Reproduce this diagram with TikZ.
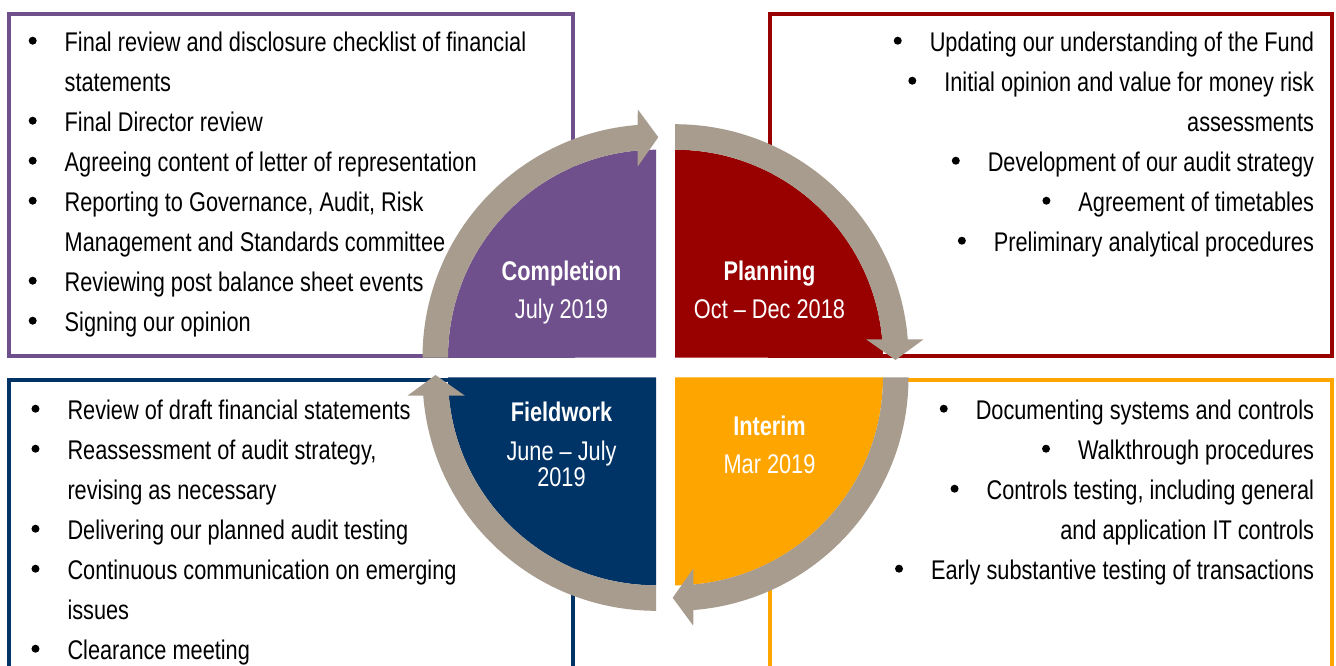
\documentclass[tikz,border=0pt]{standalone}
\usepackage{fontspec}
\setmainfont{Liberation Sans}[FakeStretch=0.805]
\definecolor{purp}{RGB}{111,80,140}
\definecolor{darkred}{RGB}{153,0,0}
\definecolor{navy}{RGB}{0,51,102}
\definecolor{orng}{RGB}{255,165,0}
\definecolor{ringgray}{RGB}{168,156,143}
\newcommand\itembul{\makebox[64pt][c]{\tikz[baseline=0pt]\fill[black] (0pt,11pt) circle (4pt);}}
\newcommand\cyclearrow[2]{%
  \fill[ringgray, shift={#1}]
    (180+#2:233.5pt) arc[start angle=180+#2, end angle=94.5+#2, radius=233.5pt]
    -- (94.2+#2:249pt) -- (89.4+#2:220.5pt) -- (95.5+#2:192pt)
    -- (95.05+#2:208pt) arc[start angle=95.05+#2, end angle=180+#2, radius=208pt]
    -- cycle;}
\begin{document}
\begin{tikzpicture}[x=1pt,y=1pt,
  txt/.style={inner sep=0pt, outer sep=0pt, font=\fontsize{27}{40}\selectfont, text=black},
  lft/.style={txt, anchor=base west},
  rgt/.style={txt, anchor=base east},
  lbl/.style={inner sep=0pt, outer sep=0pt, font=\fontsize{27}{40}\selectfont, text=white, anchor=base},
  boxline/.style={line width=4pt}]
\useasboundingbox (0,0) rectangle (1336,-665);
\clip (0,0) rectangle (1336,-665);
\fill[white] (0,0) rectangle (1336,-665);
% boxes
\draw[boxline, purp] (8.5,-13.5) rectangle (573,-355.5);
\draw[boxline, darkred] (769.5,-13.5) rectangle (1332,-355.5);
\draw[boxline, navy] (8.5,-379.5) rectangle (573,-700);
\draw[boxline, orng] (769.5,-379.5) rectangle (1332,-700);
% quadrants
\fill[purp] (656,-357.7) -- ++(180:208pt) arc[start angle=180, end angle=90, radius=208pt] -- cycle;
\fill[darkred] (675,-357.7) -- ++(90:208pt) arc[start angle=90, end angle=0, radius=208pt] -- cycle;
\fill[orng] (675,-377.3) -- ++(0:208pt) arc[start angle=0, end angle=-90, radius=208pt] -- cycle;
\fill[navy] (656,-377.3) -- ++(-90:208pt) arc[start angle=-90, end angle=-180, radius=208pt] -- cycle;
% cycle arrows
\cyclearrow{(656,-357.7)}{0}
\cyclearrow{(675,-357.7)}{-90}
\cyclearrow{(675,-377.3)}{-180}
\cyclearrow{(656,-377.3)}{-270}
% centre labels
\node[lbl, font=\fontsize{27}{40}\selectfont\bfseries] (compT) at (561.5,-280) {Completion};
\node[lbl] (compD) at (561.5,-318) {July 2019};
\node[lbl, font=\fontsize{27}{40}\selectfont\bfseries] (planT) at (769.5,-280) {Planning};
\node[lbl] (planD) at (769.5,-318) {Oct – Dec 2018};
\node[lbl, font=\fontsize{27}{40}\selectfont\bfseries] (fieldT) at (561.5,-421) {Fieldwork};
\node[lbl] (fieldD1) at (561.5,-460) {June – July};
\node[lbl] (fieldD2) at (561.5,-486) {2019};
\node[lbl, font=\fontsize{27}{40}\selectfont\bfseries] (intT) at (769.5,-435) {Interim};
\node[lbl] (intD) at (769.5,-473) {Mar 2019};
% completion box
\node[lft] (c1) at (0.7,-51.7) {\itembul Final review and disclosure checklist of financial};
\node[lft] (c1b) at (64.7,-91.7) {statements};
\node[lft] (c2) at (0.7,-131.7) {\itembul Final Director review};
\node[lft] (c3) at (0.7,-171.7) {\itembul Agreeing content of letter of representation};
\node[lft] (c4) at (0.7,-211.7) {\itembul Reporting to Governance, Audit, Risk};
\node[lft] (c4b) at (64.7,-251.7) {Management and Standards committee};
\node[lft] (c5) at (0.7,-291.7) {\itembul Reviewing post balance sheet events};
\node[lft] (c6) at (0.7,-331.7) {\itembul Signing our opinion};
% planning box
\node[rgt] (p1) at (1314,-51.7) {\itembul Updating our understanding of the Fund};
\node[rgt] (p2) at (1314,-91.7) {\itembul Initial opinion and value for money risk};
\node[rgt] (p2b) at (1314,-131.7) {assessments};
\node[rgt] (p3) at (1314,-171.7) {\itembul Development of our audit strategy};
\node[rgt] (p4) at (1314,-211.7) {\itembul Agreement of timetables};
\node[rgt] (p5) at (1314,-251.7) {\itembul Preliminary analytical procedures};
% fieldwork box
\node[lft] (f1) at (3.5,-419.7) {\itembul Review of draft financial statements};
\node[lft] (f2) at (3.5,-459.7) {\itembul Reassessment of audit strategy,};
\node[lft] (f2b) at (67.5,-499.7) {revising as necessary};
\node[lft] (f3) at (3.5,-539.7) {\itembul Delivering our planned audit testing};
\node[lft] (f4) at (3.5,-579.7) {\itembul Continuous communication on emerging};
\node[lft] (f4b) at (67.5,-619.7) {issues};
\node[lft] (f5) at (3.5,-659.7) {\itembul Clearance meeting};
% interim box
\node[rgt] (i1) at (1314,-419.7) {\itembul Documenting systems and controls};
\node[rgt] (i2) at (1314,-459.7) {\itembul Walkthrough procedures};
\node[rgt] (i3) at (1314,-499.7) {\itembul Controls testing, including general};
\node[rgt] (i3b) at (1314,-539.7) {and application IT controls};
\node[rgt] (i4) at (1314,-579.7) {\itembul Early substantive testing of transactions};
\end{tikzpicture}
\end{document}
